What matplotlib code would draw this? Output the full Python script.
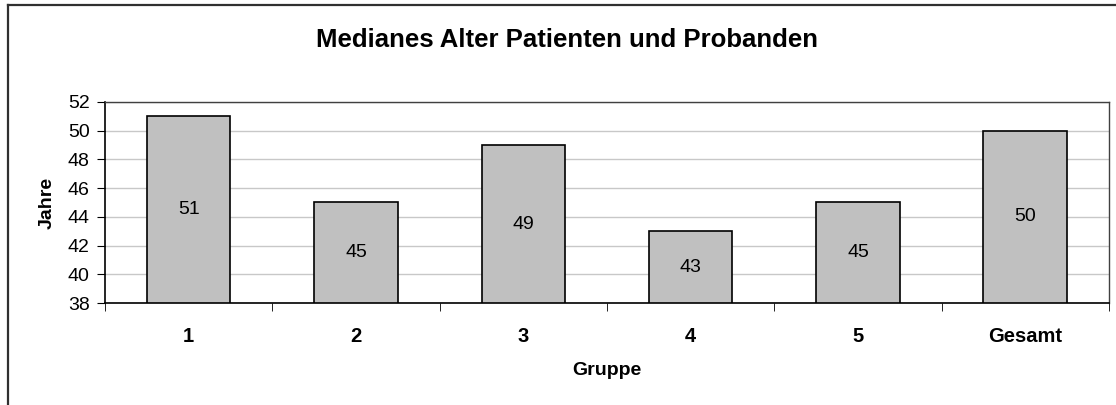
import matplotlib.pyplot as plt
from matplotlib.lines import Line2D
from matplotlib.ticker import MultipleLocator, FixedLocator

plt.rcParams['font.family'] = ['Liberation Sans', 'DejaVu Sans']

# Daten
gruppen = ['1', '2', '3', '4', '5', 'Gesamt']
median_alter = [51, 45, 49, 43, 45, 50]
y_min, y_max = 38, 52

fig = plt.figure(figsize=(11.16, 4.05), dpi=100)
ax = fig.add_axes([105 / 1116, 1 - 303 / 405, 1004 / 1116, 201 / 405])

x = list(range(len(gruppen)))
bars = ax.bar(x, [v - y_min for v in median_alter], bottom=y_min, width=0.5,
              color='#c0c0c0', edgecolor='black', linewidth=1.2, zorder=3)

# Werte mittig in die Balken
for xi, v in zip(x, median_alter):
    ax.text(xi, (y_min + v) / 2, str(v), ha='center', va='center',
            fontsize=14, zorder=4)

ax.set_xlim(-0.5, len(gruppen) - 0.5)
ax.set_ylim(y_min, y_max)
ax.yaxis.set_major_locator(MultipleLocator(2))
ax.grid(axis='y', color='#c8c8c8', linewidth=1, zorder=0)

ax.set_xticks(x)
ax.set_xticklabels(gruppen, fontsize=14.5, fontweight='bold')
ax.xaxis.set_minor_locator(FixedLocator([i + 0.5 for i in range(-1, len(gruppen))]))
ax.tick_params(axis='x', which='major', length=0, pad=17)
ax.tick_params(axis='x', which='minor', length=6, direction='out', color='black')
ax.tick_params(axis='y', length=6, direction='out', labelsize=14, pad=5)

for side in ['left', 'bottom']:
    ax.spines[side].set_color('black')
    ax.spines[side].set_linewidth(1.2)
for side in ['top', 'right']:
    ax.spines[side].set_color('#404040')
    ax.spines[side].set_linewidth(1)

ax.set_xlabel('Gruppe', fontsize=14, fontweight='bold', labelpad=12)
ax.set_ylabel('Jahre', fontsize=14, fontweight='bold', labelpad=9)

fig.text(567 / 1116, 1 - 40 / 405, 'Medianes Alter Patienten und Probanden',
         ha='center', va='center', fontsize=18.5, fontweight='bold')

# Rahmen des Diagrammbereichs (rechts und unten abgeschnitten)
fig.add_artist(Line2D([8 / 1116, 8 / 1116], [0, 1 - 5 / 405], transform=fig.transFigure,
                      color='#303030', linewidth=1.6))
fig.add_artist(Line2D([8 / 1116, 1], [1 - 5 / 405, 1 - 5 / 405], transform=fig.transFigure,
                      color='#303030', linewidth=1.6))

fig.savefig('out.png', dpi=100)
